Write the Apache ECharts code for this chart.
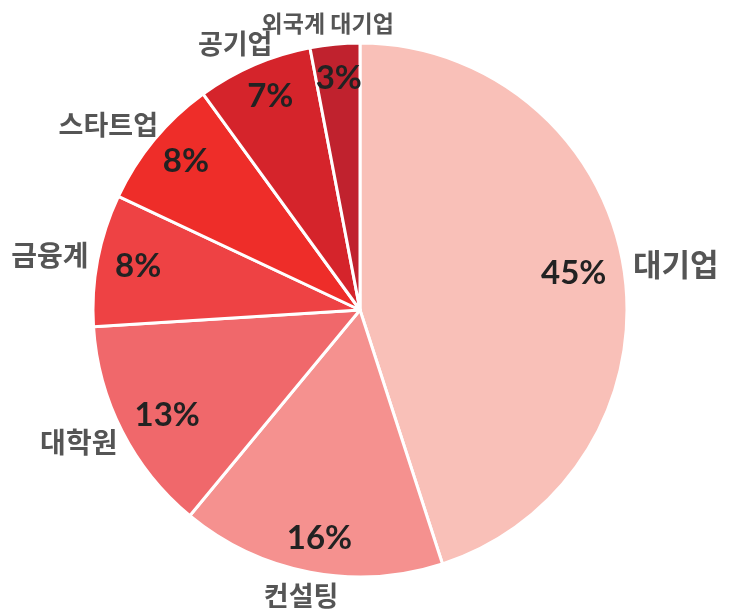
<!DOCTYPE html>
<html><head><meta charset="utf-8">
<script src="https://cdn.jsdelivr.net/npm/echarts@6/dist/echarts.min.js"></script>
<style>html,body{margin:0;padding:0;background:#fff}#c{width:741px;height:616px}</style>
</head><body><div id="c"></div>
<script>
// Data
const categories = ['대기업', '컨설팅', '대학원', '금융계', '스타트업', '공기업', '외국계 대기업'];
const shares = [45, 16, 13, 8, 8, 7, 3];
const colors = ['#f9c0b8', '#f5918f', '#f0686b', '#ee4244', '#ee2d29', '#d5242b', '#c0222e'];
const nameFontSizes = [31, 27, 28, 28, 27, 27, 23];

// Geometry (px)
const CX = 360, CY = 310, R = 267;
const total = shares.reduce((a, b) => a + b, 0);
const mids = [];
let acc = 0;
shares.forEach(v => { mids.push((acc + v / 2) / total * 2 * Math.PI); acc += v; });

function place(dist, sign) {
  return function (p) {
    const t = mids[p.dataIndex];
    const s = Math.sin(t), c = Math.cos(t);
    const hw = p.labelRect.width / 2, hh = p.labelRect.height / 2;
    return {
      x: CX + dist * s + sign * hw * s,
      y: CY - dist * c - sign * hh * c,
      align: 'center', verticalAlign: 'middle'
    };
  };
}

const chart = echarts.init(document.getElementById('c'), null, { renderer: 'canvas' });
chart.setOption({
  animation: false,
  backgroundColor: '#fff',
  series: [
    {
      type: 'pie',
      center: [CX, CY],
      radius: [0, R],
      startAngle: 90,
      clockwise: true,
      avoidLabelOverlap: false,
      itemStyle: { borderColor: '#fff', borderWidth: 3 },
      label: {
        show: true,
        position: 'inside',
        formatter: '{b}',
        color: '#555',
        fontFamily: 'Noto Sans CJK KR',
        fontWeight: 'bold'
      },
      labelLine: { show: false },
      labelLayout: place(R + 10, 1),
      emphasis: { disabled: true },
      data: categories.map((n, i) => ({
        name: n, value: shares[i],
        itemStyle: { color: colors[i] },
        label: { fontSize: nameFontSizes[i] }
      }))
    },
    {
      type: 'pie',
      center: [CX, CY],
      radius: [0, R],
      startAngle: 90,
      clockwise: true,
      silent: true,
      avoidLabelOverlap: false,
      itemStyle: { color: 'rgba(0,0,0,0)', borderWidth: 0 },
      label: {
        show: true,
        position: 'inside',
        formatter: p => p.value + '%',
        color: '#222',
        fontSize: 33,
        fontFamily: 'Lato, Noto Sans',
        fontWeight: 'bold'
      },
      labelLine: { show: false },
      labelLayout: place(R - 18, -1),
      data: categories.map((n, i) => ({ name: n, value: shares[i] }))
    }
  ]
});
</script></body></html>
